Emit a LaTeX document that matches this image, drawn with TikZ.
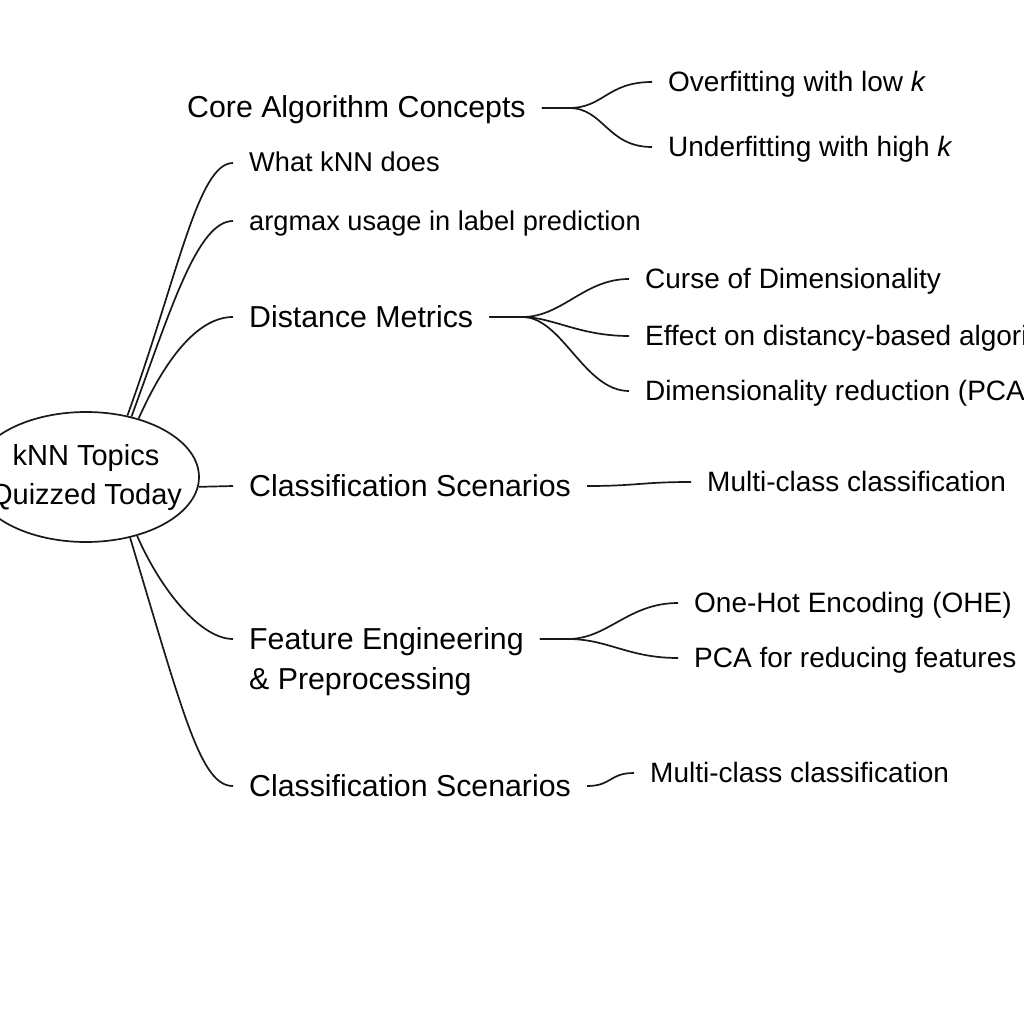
\documentclass[tikz,border=0pt]{standalone}
\usepackage{fontspec}
\setmainfont{Liberation Sans}
\usetikzlibrary{shapes.geometric,positioning}

\begin{document}
\begin{tikzpicture}[x=1pt,y=-1pt,
    topic/.style={anchor=west,inner xsep=16pt,inner ysep=0pt,text height=20pt,text depth=0pt,
        font=\fontsize{30.3}{36}\selectfont},
    sub/.style={topic,text height=18pt,font=\fontsize{27.2}{33}\selectfont},
    leaf/.style={topic,text height=19pt,font=\fontsize{28}{34}\selectfont},
    hub/.style={ellipse,draw=black!90,line width=1.7pt,minimum width=226pt,minimum height=130pt,inner sep=0pt},
    link/.style={draw=black!90,line width=1.7pt}]
    \useasboundingbox[fill=white] (0,0) rectangle (1024,1024);

    % centre
    \node[hub,label={[align=center,font=\fontsize{29}{39}\selectfont]center:kNN Topics\\Quizzed Today}] (root) at (86,477) {};

    % first level
    \node[topic] (core) at (171,108) {Core Algorithm Concepts};
    \node[sub] (what) at (233,163) {What kNN does};
    \node[sub] (argmax) at (233,221) {argmax usage in label prediction};
    \node[topic] (dist) at (233,317) {Distance Metrics};
    \node[topic] (cls) at (233,486) {Classification Scenarios};
    \node[topic] (fe) at (233,639) {Feature Engineering};
    \node[topic] (prep) [below=40pt of fe.west,anchor=west] {\& Preprocessing};
    \node[topic] (cls2) at (233,786) {Classification Scenarios};

    % leaves
    \node[leaf] (ovf) at (652,82) {Overfitting with low \textit{k}};
    \node[leaf] (unf) at (652,147) {Underfitting with high \textit{k}};
    \node[leaf] (curse) at (629,279) {Curse of Dimensionality};
    \node[leaf] (effect) at (629,336) {Effect on distancy-based algorithms};
    \node[leaf] (dimred) at (629,391) {Dimensionality reduction (PCA)};
    \node[leaf] (mc1) at (691,482) {Multi-class classification};
    \node[leaf] (ohe) at (678,603) {One-Hot Encoding (OHE)};
    \node[leaf] (pcaf) at (678,658) {PCA for reducing features};
    \node[leaf] (mc2) at (634,773) {Multi-class classification};

    % centre to topics
    \draw[link] (root.56) .. controls +(51,-141) and +(-35,0) .. (what.west);
    \draw[link] (root.53) .. controls +(40,-110) and +(-35,0) .. (argmax.west);
    \draw[link] (root.48) .. controls +(30,-67) and +(-32,0) .. (dist.west);
    \draw[link] (root.-5) -- (cls.west);
    \draw[link] (root.-49) .. controls +(24,55) and +(-32,0) .. (fe.west);
    \draw[link] (root.-54) .. controls +(54,180) and +(-32,0) .. (cls2.west);

    % topics to leaves
    \draw[link] (core.east) -- ++(27,0) .. controls +(35,0) and +(-45,0) .. (ovf.west);
    \draw[link] (core.east) -- ++(27,0) .. controls +(35,0) and +(-45,0) .. (unf.west);
    \draw[link] (dist.east) -- ++(33,0) .. controls +(40,0) and +(-45,0) .. (curse.west);
    \draw[link] (dist.east) -- ++(33,0) .. controls +(30,0) and +(-50,0) .. (effect.west);
    \draw[link] (dist.east) -- ++(33,0) .. controls +(40,0) and +(-45,0) .. (dimred.west);
    \draw[link] (cls.east) .. controls +(50,0) and +(-50,0) .. (mc1.west);
    \draw[link] (fe.east) -- ++(28,0) .. controls +(40,0) and +(-50,0) .. (ohe.west);
    \draw[link] (fe.east) -- ++(28,0) .. controls +(40,0) and +(-50,0) .. (pcaf.west);
    \draw[link] (cls2.east) .. controls +(25,0) and +(-25,0) .. (mc2.west);
\end{tikzpicture}
\end{document}
